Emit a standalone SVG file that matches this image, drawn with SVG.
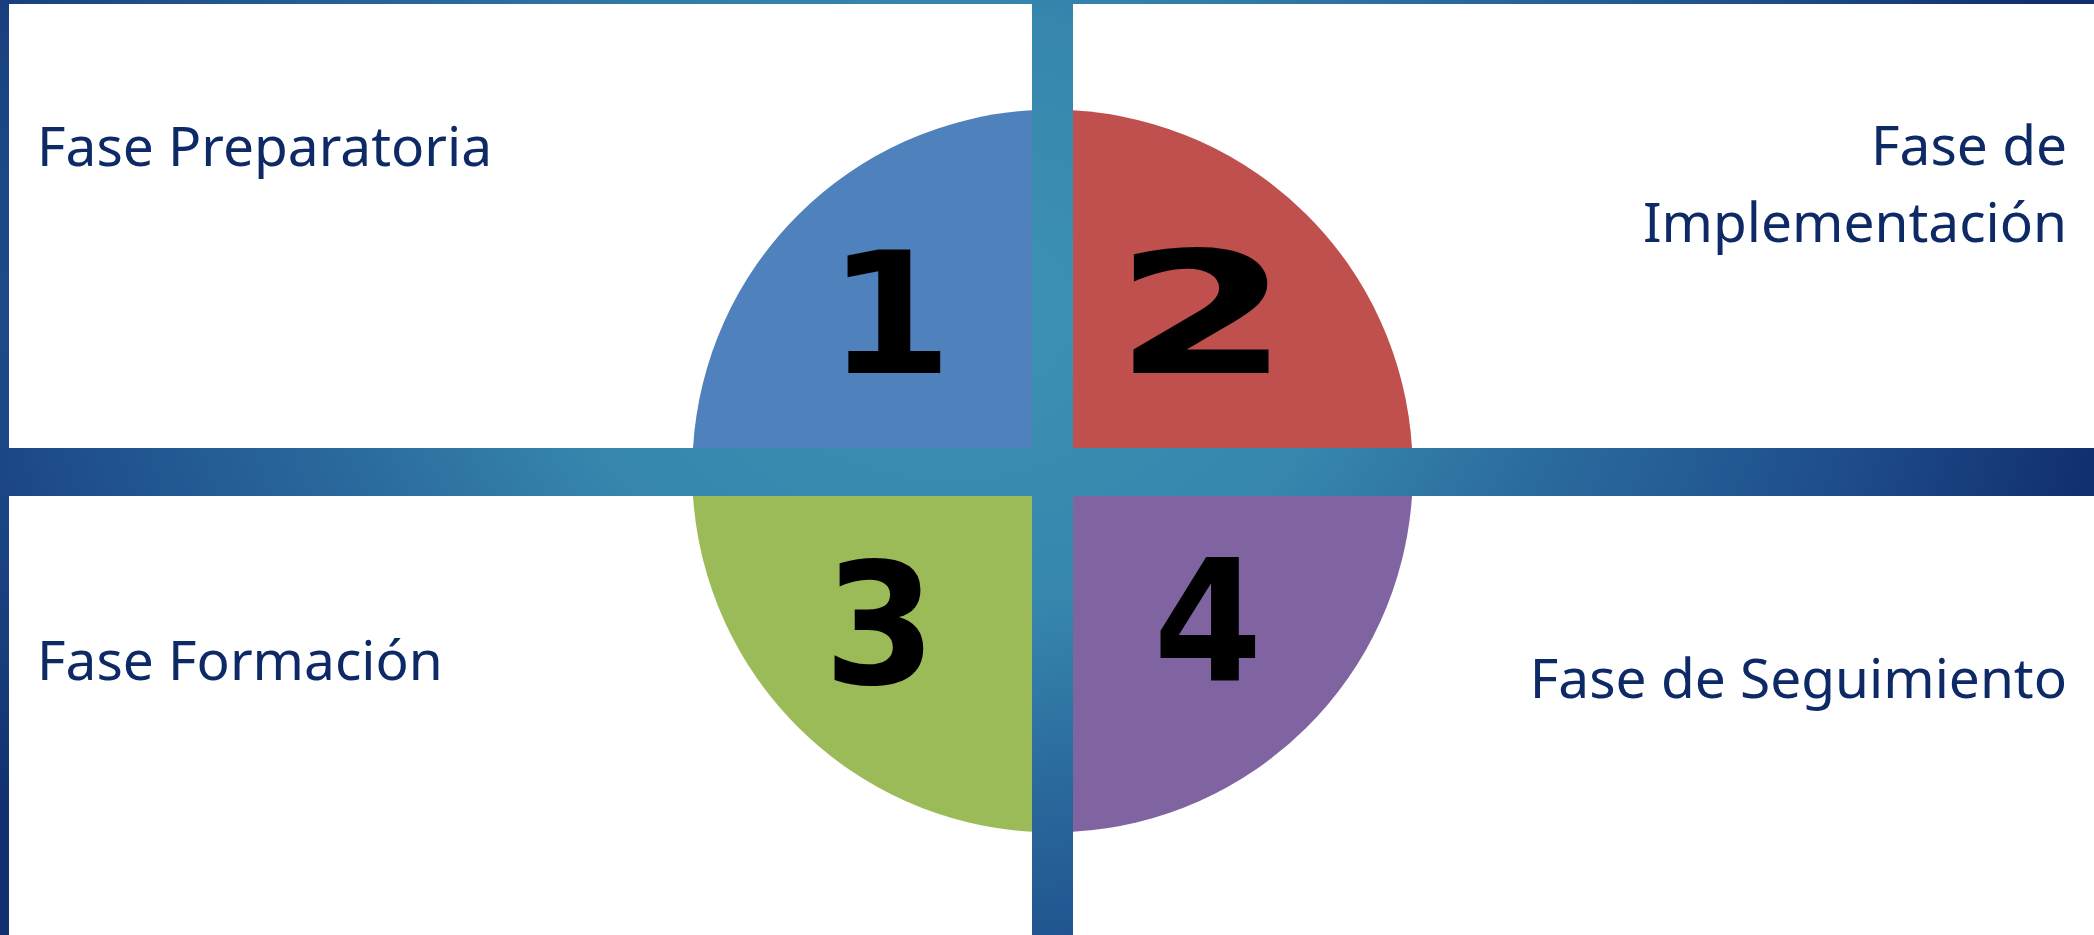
<svg xmlns="http://www.w3.org/2000/svg" width="2094" height="935" viewBox="0 0 2094 935">
<defs>
<radialGradient id="bg" gradientUnits="userSpaceOnUse" cx="950" cy="310" r="1150" gradientTransform="translate(0,77.5) scale(1,0.75)">
<stop offset="0" stop-color="#3D93B2"/>
<stop offset="0.35" stop-color="#3686AE"/>
<stop offset="0.55" stop-color="#2A6A9D"/>
<stop offset="0.8" stop-color="#1E4D8A"/>
<stop offset="1" stop-color="#12306F"/>
</radialGradient>
<style>
.panel{fill:#FFFFFF}
.lbl{font-family:"Noto Sans","Open Sans","Liberation Sans",sans-serif;font-size:55px;fill:#0D2A66}
.num{font-family:"DejaVu Sans","Liberation Sans",sans-serif;font-weight:bold;font-size:170px;fill:#000000;text-anchor:middle}
</style>
</defs>
<rect id="background" x="0" y="0" width="2094" height="935" fill="url(#bg)"/>
<g id="panels">
<rect class="panel" x="9" y="4" width="1023" height="444"/>
<rect class="panel" x="1073" y="4" width="1021" height="444"/>
<rect class="panel" x="9" y="496" width="1023" height="439"/>
<rect class="panel" x="1073" y="496" width="1021" height="439"/>
</g>
<g id="node1">
<path d="M1032,448 L693,448 A360,360 0 0 1 1032,110.3 Z" fill="#4F81BD"/>
<text class="num" transform="translate(890,373) scale(1.06,1)">1</text>
<text class="lbl" x="37" y="166">Fase Preparatoria</text>
</g>
<g id="node2">
<path d="M1073,448 L1073,110.3 A360,360 0 0 1 1412,448 Z" fill="#C0504D"/>
<text class="num" transform="translate(1202,373) scale(1.5,1)">2</text>
<text class="lbl" x="2067" y="165" text-anchor="end">Fase de</text>
<text class="lbl" x="2067" y="242" text-anchor="end">Implementación</text>
</g>
<g id="node3">
<path d="M1032,496 L693,496 A360,360 0 0 0 1032,831.7 Z" fill="#9BBB59"/>
<text class="num" transform="translate(880,684) scale(0.95,1)">3</text>
<text class="lbl" x="37" y="680">Fase Formación</text>
</g>
<g id="node4">
<path d="M1073,496 L1073,831.7 A360,360 0 0 0 1412,496 Z" fill="#8064A2"/>
<text class="num" transform="translate(1208,681) scale(0.92,1)">4</text>
<text class="lbl" x="2067" y="698" text-anchor="end">Fase de Seguimiento</text>
</g>
<g id="connectors"/>
</svg>
